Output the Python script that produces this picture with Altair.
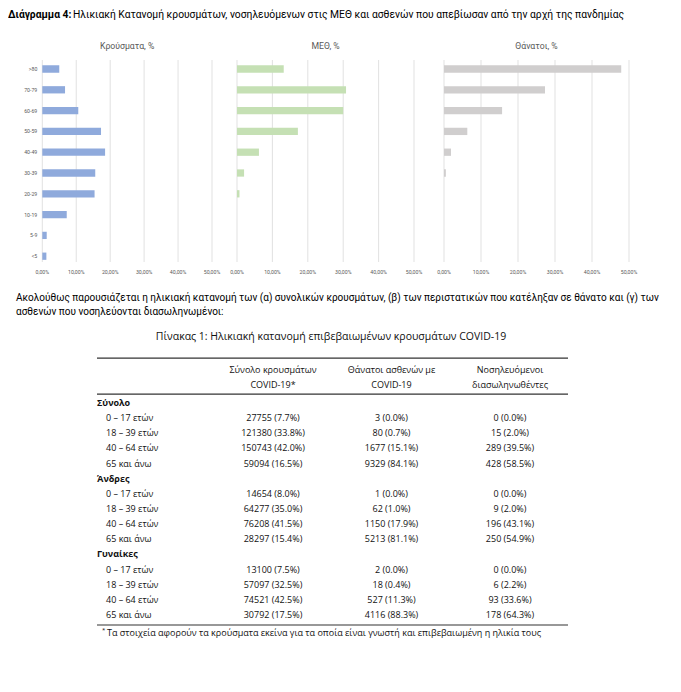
import altair as alt
import pandas as pd

# ---------------- data ----------------
ages = [">80", "70-79", "60-69", "50-59", "40-49", "30-39", "20-29", "10-19", "5-9", "<5"]
cases_pct = [5.0, 6.7, 10.6, 17.3, 18.5, 15.6, 15.4, 7.2, 1.3, 1.2]
icu_pct = [13.2, 30.8, 30.0, 17.2, 6.2, 2.0, 0.7, 0.0, 0.0, 0.0]
deaths_pct = [47.9, 27.3, 15.7, 6.3, 1.9, 0.5, 0.0, 0.0, 0.0, 0.0]
tick_values = [0, 10, 20, 30, 40, 50]
tick_labels = ["0,00%", "10,00%", "20,00%", "30,00%", "40,00%", "50,00%"]
panel_titles = ["Κρούσματα, %", "ΜΕΘ, %", "Θάνατοι, %"]

groups = ["Σύνολο", "Άνδρες", "Γυναίκες"]
age_groups = ["0 – 17 ετών", "18 – 39 ετών", "40 – 64 ετών", "65 και άνω"]
col_headers = [["Σύνολο κρουσμάτων", "COVID-19*"],
               ["Θάνατοι ασθενών με", "COVID-19"],
               ["Νοσηλευόμενοι", "διασωληνωθέντες"]]

total_cases = [27755, 121380, 150743, 59094]
total_cases_pct = [7.7, 33.8, 42.0, 16.5]
total_deaths = [3, 80, 1677, 9329]
total_deaths_pct = [0.0, 0.7, 15.1, 84.1]
total_icu = [0, 15, 289, 428]
total_icu_pct = [0.0, 2.0, 39.5, 58.5]

men_cases = [14654, 64277, 76208, 28297]
men_cases_pct = [8.0, 35.0, 41.5, 15.4]
men_deaths = [1, 62, 1150, 5213]
men_deaths_pct = [0.0, 1.0, 17.9, 81.1]
men_icu = [0, 9, 196, 250]
men_icu_pct = [0.0, 2.0, 43.1, 54.9]

women_cases = [13100, 57097, 74521, 30792]
women_cases_pct = [7.5, 32.5, 42.5, 17.5]
women_deaths = [2, 18, 527, 4116]
women_deaths_pct = [0.0, 0.4, 11.3, 88.3]
women_icu = [0, 6, 93, 178]
women_icu_pct = [0.0, 2.2, 33.6, 64.3]

header_bold = "Διάγραμμα 4:"
header_rest = ("Ηλικιακή Κατανομή κρουσμάτων, νοσηλευόμενων στις ΜΕΘ και ασθενών "
               "που απεβίωσαν από την αρχή της πανδημίας")
paragraph = ["Ακολούθως παρουσιάζεται η ηλικιακή κατανομή των (α) συνολικών κρουσμάτων, "
             "(β) των περιστατικών που κατέληξαν σε θάνατο και (γ) των",
             "ασθενών που νοσηλεύονται διασωληνωμένοι:"]
table_title = "Πίνακας 1: Ηλικιακή κατανομή επιβεβαιωμένων κρουσμάτων COVID-19"
footnote = ("Τα στοιχεία αφορούν τα κρούσματα εκείνα για τα οποία είναι γνωστή "
            "και επιβεβαιωμένη η ηλικία τους")

# ---------------- layout (page px -> view px) ----------------
M = 8
def vx(p): return p - M
def vy(p): return p - M

F_DOC = "Roboto"
F_TAB = "Open Sans"


def bar_panel(values, color, title, x0, x1, show_labels):
    df = pd.DataFrame({"age": ages, "value": values})
    tdf = pd.DataFrame({"t": tick_values, "label": tick_labels})
    xs = alt.Scale(domain=[0, 50], range=[vx(x0), vx(x1)], nice=False, zero=True)
    ys = alt.Scale(domain=ages, range=[vy(58.6), vy(266.6)],
                   paddingInner=0.65, paddingOuter=0.325)
    grid = alt.Chart(tdf).mark_rule(color="#d9d9d9", strokeWidth=0.8).encode(
        x=alt.X("t:Q", scale=xs, axis=None),
        y=alt.value(vy(60)), y2=alt.value(vy(262)))
    tl = alt.Chart(tdf).mark_text(font=F_DOC, fontSize=5.2, color="#595959",
                                  baseline="middle", align="center").encode(
        x=alt.X("t:Q", scale=xs, axis=None), y=alt.value(vy(272)), text="label:N")
    bars = alt.Chart(df).mark_bar(color=color).encode(
        x=alt.X("value:Q", scale=xs, axis=None),
        y=alt.Y("age:N", scale=ys, axis=None))
    tt = alt.Chart(pd.DataFrame({"t": [title]})).mark_text(
        font=F_DOC, fontSize=8.7, color="#595959", baseline="middle", align="center").encode(
        x=alt.value((vx(x0) + vx(x1)) / 2), y=alt.value(vy(45.7)), text="t:N")
    layers = [grid, bars, tl, tt]
    if show_labels:
        yl = alt.Chart(df).mark_text(font=F_DOC, fontSize=5.2, color="#595959",
                                     align="right", baseline="middle", dx=-5).encode(
            x=alt.datum(0), y=alt.Y("age:N", scale=ys, axis=None), text="age:N")
        layers.append(yl)
    return alt.layer(*layers)


p1 = bar_panel(cases_pct, "#8FAADC", panel_titles[0], 42.3, 212, True)
p2 = bar_panel(icu_pct, "#C5E0B4", panel_titles[1], 237, 414, False)
p3 = bar_panel(deaths_pct, "#D0CECE", panel_titles[2], 444, 629, False)

# ---------------- table ----------------
group_data = [
    (total_cases, total_cases_pct, total_deaths, total_deaths_pct, total_icu, total_icu_pct),
    (men_cases, men_cases_pct, men_deaths, men_deaths_pct, men_icu, men_icu_pct),
    (women_cases, women_cases_pct, women_deaths, women_deaths_pct, women_icu, women_icu_pct),
]
grp_rows, age_rows, val_rows = [], [], []
r = 0
for g, (c, cp, d, dp, i, ip) in zip(groups, group_data):
    grp_rows.append({"row": r, "text": g})
    r += 1
    for k, a in enumerate(age_groups):
        age_rows.append({"row": r, "text": a})
        for col, (n, p) in enumerate([(c[k], cp[k]), (d[k], dp[k]), (i[k], ip[k])]):
            val_rows.append({"row": r, "col": col, "text": f"{n} ({p:.1f}%)"})
        r += 1
n_rows = r
head_rows = []
for col, lines in enumerate(col_headers):
    for li, t in enumerate(lines):
        head_rows.append({"row": -2.2 + li, "col": col, "text": t})
rule_rows = pd.DataFrame({"row": [-2.97, -0.59, n_rows - 0.34]})

tx = alt.Scale(domain=[0, 2], range=[vx(273), vx(510)], nice=False, zero=False)
ty = alt.Scale(domain=[0, n_rows - 1], range=[vy(403), vy(615)], nice=False, zero=False)

t_vals = alt.Chart(pd.DataFrame(val_rows + head_rows)).mark_text(
    font=F_TAB, fontSize=9, color="#111111", align="center", baseline="middle").encode(
    x=alt.X("col:Q", scale=tx, axis=None), y=alt.Y("row:Q", scale=ty, axis=None), text="text:N")
t_ages = alt.Chart(pd.DataFrame(age_rows)).mark_text(
    font=F_TAB, fontSize=9, color="#111111", align="left", baseline="middle").encode(
    x=alt.value(vx(106)), y=alt.Y("row:Q", scale=ty, axis=None), text="text:N")
t_grps = alt.Chart(pd.DataFrame(grp_rows)).mark_text(
    font=F_TAB, fontSize=9, fontWeight="bold", color="#111111", align="left",
    baseline="middle").encode(
    x=alt.value(vx(97)), y=alt.Y("row:Q", scale=ty, axis=None), text="text:N")
t_rules = alt.Chart(rule_rows).mark_rule(color="#333333", strokeWidth=1.2).encode(
    x=alt.value(vx(97)), x2=alt.value(vx(568)), y=alt.Y("row:Q", scale=ty, axis=None))
t_foot = alt.Chart(pd.DataFrame({"t": [footnote]})).mark_text(
    font=F_TAB, fontSize=9, color="#111111", align="left", baseline="middle").encode(
    x=alt.value(vx(107)), y=alt.value(vy(633)), text="t:N")
t_star = alt.Chart(pd.DataFrame({"t": ["*"]})).mark_text(
    font=F_TAB, fontSize=6, color="#111111", align="left", baseline="middle").encode(
    x=alt.value(vx(102)), y=alt.value(vy(630)), text="t:N")
table = alt.layer(t_rules, t_vals, t_ages, t_grps, t_foot, t_star)

# ---------------- document texts ----------------
h1 = alt.Chart(pd.DataFrame({"t": [header_bold]})).mark_text(
    font=F_DOC, fontSize=10.3, fontWeight="bold", color="#000000", align="left",
    baseline="top").encode(x=alt.value(vx(8)), y=alt.value(2), text="t:N")
h2 = alt.Chart(pd.DataFrame({"t": [header_rest]})).mark_text(
    font=F_DOC, fontSize=10.3, color="#000000", align="left",
    baseline="top").encode(x=alt.value(vx(73)), y=alt.value(2), text="t:N")
para = alt.Chart(pd.DataFrame({"t": paragraph, "line": [0, 1]})).mark_text(
    font=F_DOC, fontSize=10, color="#000000", align="left", baseline="middle").encode(
    x=alt.value(vx(16)),
    y=alt.Y("line:Q", scale=alt.Scale(domain=[0, 1], range=[vy(298), vy(312)], nice=False, zero=False), axis=None),
    text="t:N")
ttl = alt.Chart(pd.DataFrame({"t": [table_title]})).mark_text(
    font=F_TAB, fontSize=10.5, color="#111111", align="center", baseline="middle").encode(
    x=alt.value(vx(331)), y=alt.value(vy(337)), text="t:N")

chart = alt.layer(p1, p2, p3, table, h1, h2, para, ttl).resolve_scale(
    x="independent", y="independent"
).properties(
    width=660, height=670, padding=0, autosize=alt.AutoSizeParams(type="none")
).configure_view(strokeWidth=0)

chart.save("out.html", embed_options={"renderer": "svg", "actions": False})
